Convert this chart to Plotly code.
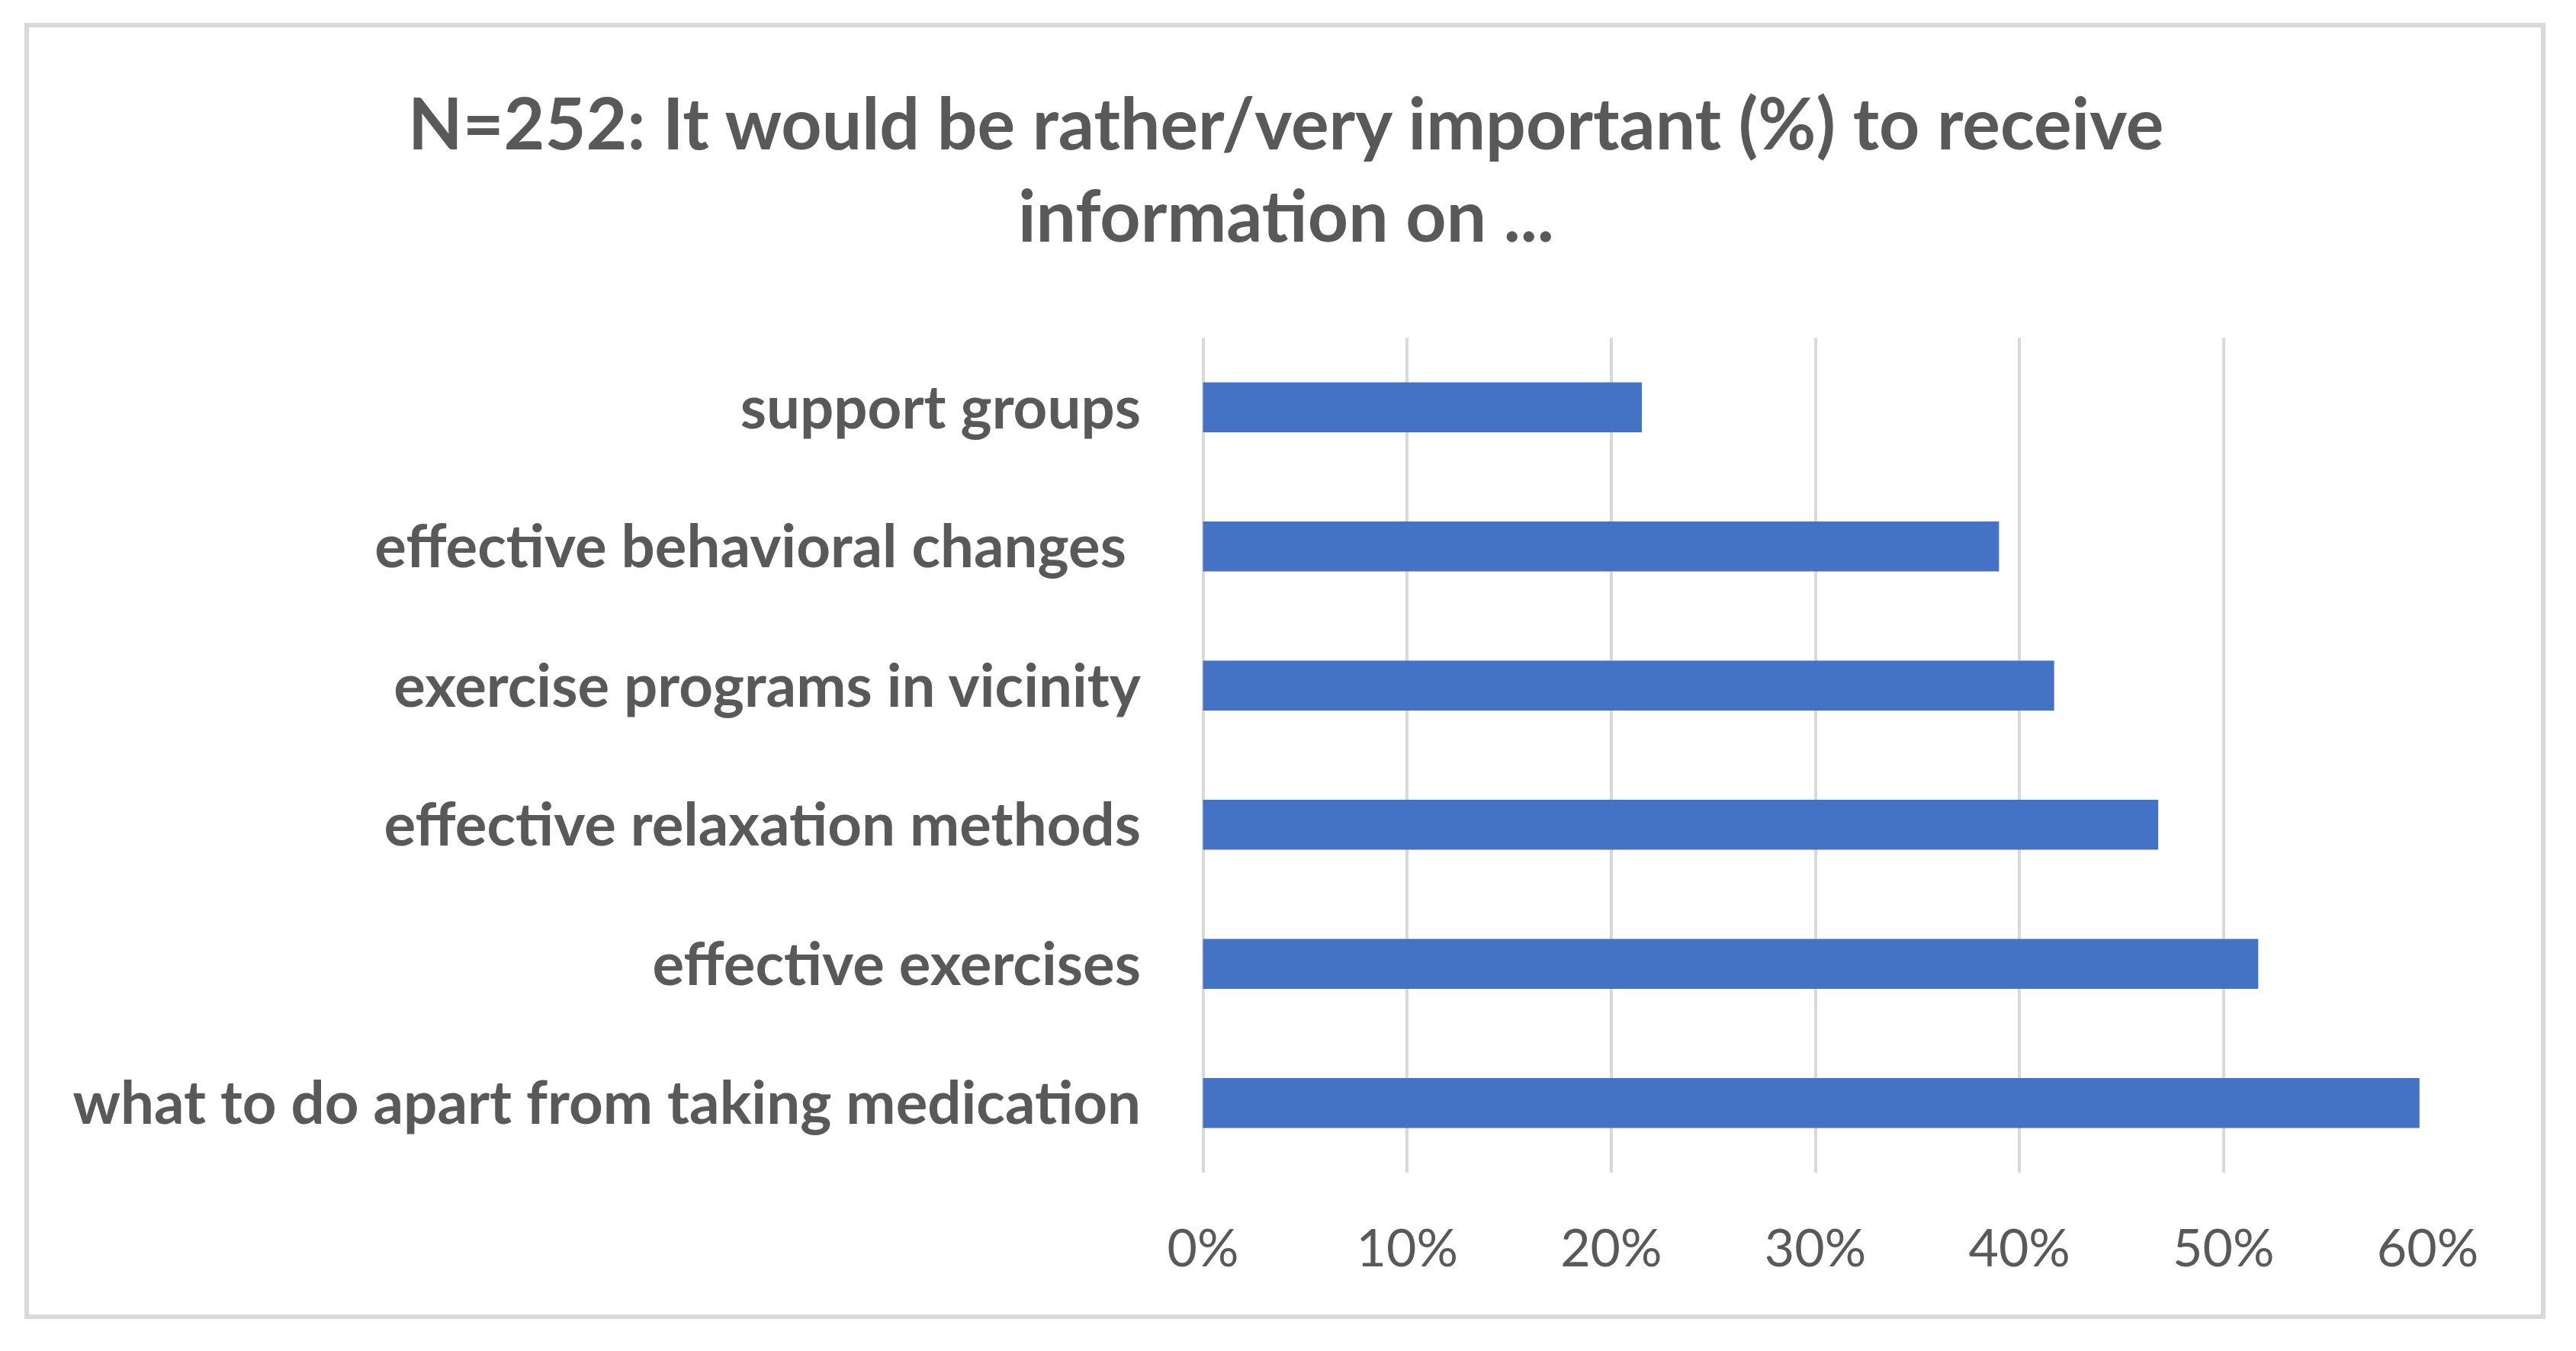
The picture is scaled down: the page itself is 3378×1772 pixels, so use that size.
import plotly.graph_objects as go

# ---- data (top to bottom as shown) ----
categories = [
    "support groups",
    "effective behavioral changes\u00a0",
    "exercise programs in vicinity",
    "effective relaxation methods",
    "effective exercises",
    "what to do apart from taking medication",
]
values = [21.5, 39.0, 41.7, 46.8, 51.7, 59.6]
tick_vals = [0, 10, 20, 30, 40, 50, 60]
tick_text = ["0%", "10%", "20%", "30%", "40%", "50%", "60%"]
title_lines = ["N=252: It would be rather/very important (%) to receive", "information on ..."]

# page body has an 8px margin; compensate
OFF = 8
WIN_W, WIN_H = 3378, 1772
W, H = WIN_W - OFF, WIN_H - OFF
PLOT_L, PLOT_R, PLOT_T, PLOT_B = 1577, 3184, 443, 1538  # window pixel coords
L = PLOT_L - OFF
T = PLOT_T - OFF
R = W - (PLOT_R - OFF)
B = H - (PLOT_B - OFF)
PW, PH = W - L - R, H - T - B

def px_x(px):
    return (px - OFF - L) / PW

def px_y(py):
    return (H - B - (py - OFF)) / PH

FONT = "Lato"
GREY = "#595959"
GRID = "#D9D9D9"

fig = go.Figure(go.Bar(
    x=values,
    y=categories,
    orientation="h",
    marker=dict(color="#4472C4", line=dict(width=0)),
    width=0.36,
))

fig.update_layout(
    width=W, height=H,
    margin=dict(l=L, r=R, t=T, b=B, autoexpand=False),
    paper_bgcolor="white",
    plot_bgcolor="white",
    showlegend=False,
    font=dict(family=FONT, color=GREY),
)

fig.update_xaxes(
    range=[-0.02, 60.02],
    tickvals=tick_vals,
    ticktext=tick_text,
    showgrid=True,
    gridcolor=GRID,
    gridwidth=4,
    zeroline=True,
    zerolinecolor=GRID,
    zerolinewidth=4,
    showline=False,
    ticks="",
    tickfont=dict(family=FONT, size=68, color=GREY),
    ticklabelstandoff=54,
)

fig.update_yaxes(
    categoryorder="array",
    categoryarray=categories[::-1],
    showgrid=False,
    zeroline=False,
    showline=False,
    ticks="",
    tickfont=dict(family=FONT, size=78, color=GREY, weight="bold"),
    ticklabelstandoff=80,
)

# title lines
for txt, yc in zip(title_lines, [160, 281]):
    fig.add_annotation(
        text=f"<b>{txt}</b>",
        xref="paper", yref="paper",
        x=px_x(1686), y=px_y(yc),
        xanchor="center", yanchor="middle",
        showarrow=False,
        font=dict(family=FONT, size=93, color=GREY),
    )

# outer chart border
fig.add_shape(
    type="rect", xref="paper", yref="paper",
    x0=px_x(35), x1=px_x(3335), y0=px_y(1727), y1=px_y(33),
    line=dict(color=GRID, width=6),
    fillcolor="rgba(0,0,0,0)",
    layer="below",
)

fig.write_html("out.html")
